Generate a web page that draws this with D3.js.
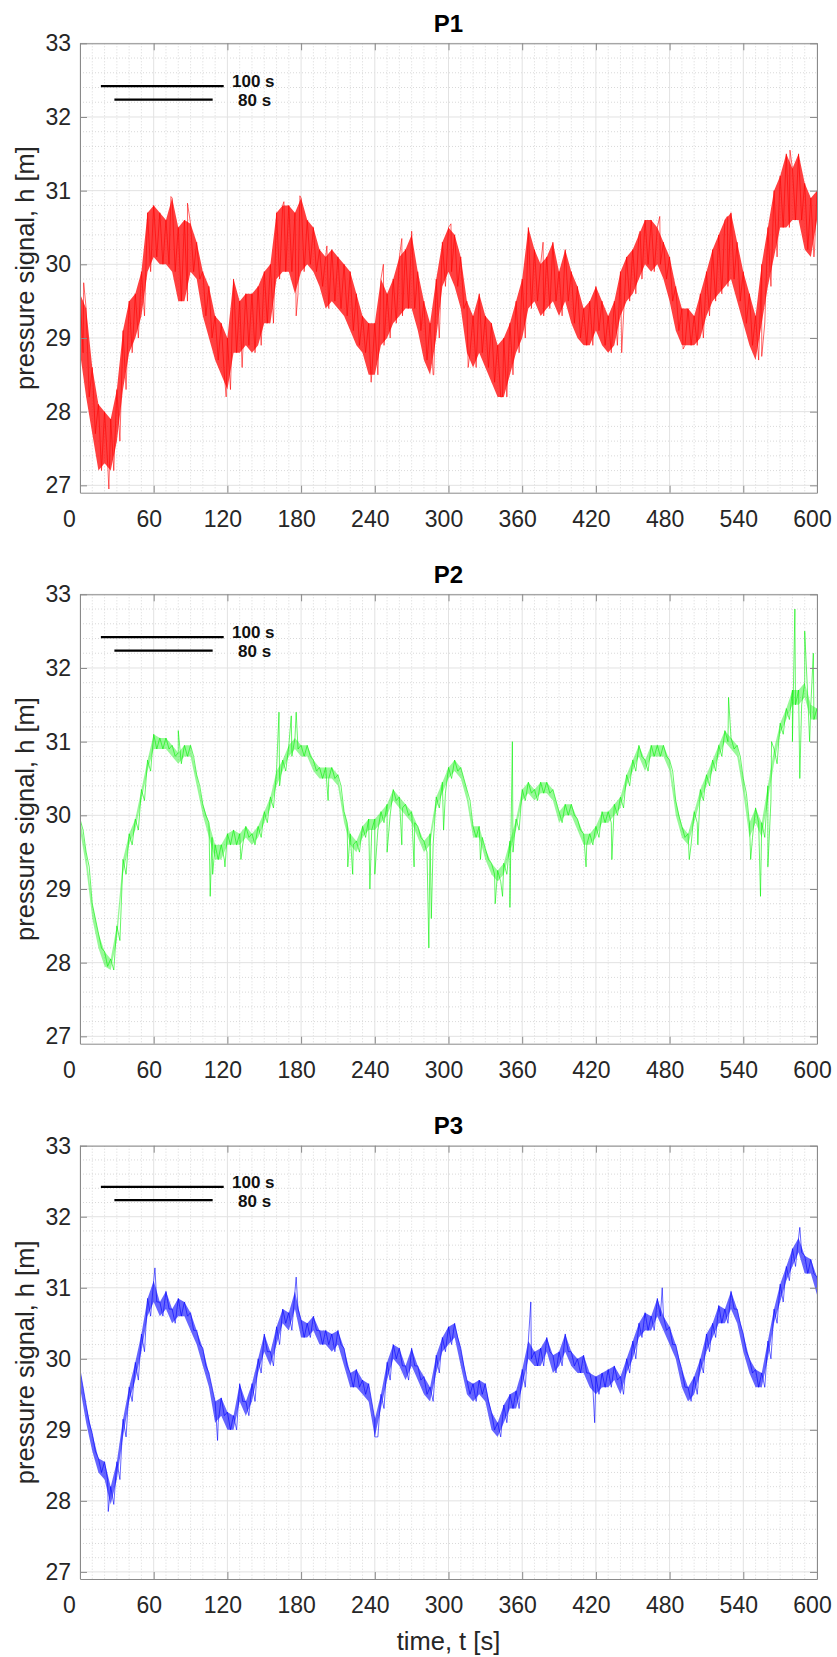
<!DOCTYPE html>
<html>
<head>
<meta charset="utf-8">
<script src="https://cdn.jsdelivr.net/npm/d3@7"></script>
<style>
  body { margin: 0; background: #fff; }
  text { font-family: Arial, "Liberation Sans", sans-serif; fill: #262626; }
</style>
</head>
<body>
<svg id="chart" width="837" height="1657"></svg>
<script>
// ---- data ----
var titles = ["P1", "P2", "P3"]
var colors = ["#ff0000", "#00f000", "#0000ff"]
var xTicks = [0, 60, 120, 180, 240, 300, 360, 420, 480, 540, 600]
var yTicks = [27, 28, 29, 30, 31, 32, 33]
var sampleStep = 5 // seconds between band samples

// lower / upper edge of the noisy band, one value every 5 s from 0 to 600 s
var p1Lo = [28.8, 28.2, 27.7, 27.2, 27.3, 27.2, 27.6, 28.3, 28.8, 29.0, 29.3, 29.9,
    30.1, 30.0, 30.0, 29.9, 29.5, 29.5, 29.9, 29.8, 29.3, 29.0, 28.7, 28.5,
    28.3, 28.8, 28.8, 28.9, 28.8, 28.9, 29.2, 29.2, 29.8, 29.9, 29.9, 29.6,
    29.9, 30.0, 29.9, 29.7, 29.4, 29.5, 29.4, 29.3, 29.1, 28.9, 28.8, 28.5,
    28.5, 28.9, 29.0, 29.2, 29.3, 29.4, 29.4, 29.1, 28.7, 28.5, 29.0, 29.7,
    29.9, 29.7, 29.4, 28.8, 28.6, 28.8, 28.6, 28.4, 28.2, 28.2, 28.5, 28.8,
    29.0, 29.4, 29.5, 29.3, 29.4, 29.5, 29.3, 29.5, 29.2, 29.0, 28.9, 28.9,
    29.1, 28.9, 28.8, 28.9, 29.3, 29.5, 29.6, 29.8, 30.0, 29.9, 30.0, 29.8,
    29.5, 29.1, 28.9, 28.9, 28.9, 29.0, 29.3, 29.5, 29.6, 29.7, 29.8, 29.5,
    29.2, 28.9, 28.7, 29.2, 29.7, 30.1, 30.5, 30.5, 30.6, 30.6, 30.2, 30.1,
    30.6]
var p1Hi = [29.6, 29.4, 28.6, 28.1, 28.0, 27.9, 28.3, 29.1, 29.5, 29.6, 29.9, 30.7,
    30.8, 30.7, 30.6, 30.9, 30.5, 30.6, 30.55, 30.3, 29.9, 29.7, 29.3, 29.2,
    29.0, 29.8, 29.5, 29.6, 29.6, 29.7, 29.9, 30.0, 30.7, 30.8, 30.8, 30.7,
    30.9, 30.6, 30.5, 30.2, 30.1, 30.2, 30.1, 30.0, 29.9, 29.6, 29.3, 29.2,
    29.2, 29.8, 29.6, 29.8, 30.1, 30.2, 30.4, 29.9, 29.5, 29.2, 29.8, 30.3,
    30.5, 30.4, 30.1, 29.5, 29.3, 29.6, 29.3, 29.2, 28.9, 29.0, 29.2, 29.5,
    29.8, 30.5, 30.2, 30.0, 30.1, 30.3, 29.9, 30.2, 29.9, 29.7, 29.4, 29.5,
    29.7, 29.5, 29.3, 29.5, 29.9, 30.1, 30.2, 30.4, 30.6, 30.6, 30.5, 30.3,
    30.1, 29.7, 29.4, 29.4, 29.3, 29.6, 29.9, 30.2, 30.4, 30.6, 30.7, 30.3,
    29.9, 29.6, 29.3, 30.0, 30.5, 31.0, 31.2, 31.5, 31.3, 31.5, 31.1, 30.9,
    31.0]
var p1Spikes = [[3, 29.75], [23.5, 26.95], [74, 30.92], [87.5, 30.83], [119, 28.2], [132, 28.6],
    [166, 30.85], [176, 29.3], [179, 30.93], [201, 30.25], [237, 28.4], [247, 30.0],
    [262, 30.35], [270, 30.45], [288, 28.5], [302, 30.55], [316, 28.6], [344, 28.2],
    [365, 30.5], [377, 30.3], [441, 28.8], [456, 30.45], [472, 30.65], [491, 28.85],
    [527, 30.65], [555, 28.75], [578, 31.55], [598, 30.2]]

var p2Lo = [29.8, 29.3, 28.6, 28.2, 27.95, 27.9, 28.3, 29.2, 29.6, 29.8, 30.2, 30.6,
    30.9, 30.9, 30.9, 30.8, 30.7, 30.8, 30.8, 30.4, 30.0, 29.7, 29.4, 29.4,
    29.6, 29.6, 29.6, 29.7, 29.6, 29.7, 29.9, 30.1, 30.4, 30.6, 30.8, 30.9,
    30.8, 30.8, 30.6, 30.5, 30.5, 30.5, 30.4, 29.9, 29.6, 29.5, 29.7, 29.8,
    29.8, 29.9, 30.0, 30.2, 30.1, 30.0, 29.9, 29.7, 29.5, 29.6, 30.1, 30.3,
    30.5, 30.6, 30.5, 30.2, 29.7, 29.7, 29.4, 29.2, 29.1, 29.2, 29.5, 29.8,
    30.2, 30.3, 30.2, 30.3, 30.3, 30.2, 29.9, 30.0, 30.0, 29.8, 29.6, 29.6,
    29.7, 29.9, 29.9, 30.0, 30.1, 30.4, 30.6, 30.8, 30.6, 30.8, 30.8, 30.8,
    30.6, 30.0, 29.7, 29.6, 29.9, 30.2, 30.4, 30.6, 30.8, 31.0, 30.9, 30.8,
    30.3, 29.7, 29.9, 29.7, 30.2, 30.7, 31.1, 31.3, 31.5, 31.5, 31.6, 31.3,
    31.3]
var p2Hi = [29.95, 29.5, 28.8, 28.4, 28.15, 28.05, 28.5, 29.4, 29.75, 29.95, 30.35, 30.75,
    31.1, 31.05, 31.05, 30.95, 30.85, 30.95, 30.95, 30.55, 30.15, 29.9, 29.6, 29.6,
    29.75, 29.8, 29.75, 29.85, 29.75, 29.85, 30.05, 30.25, 30.6, 30.75, 30.95, 31.05,
    30.95, 30.95, 30.75, 30.65, 30.65, 30.65, 30.55, 30.05, 29.75, 29.65, 29.85, 29.95,
    29.95, 30.05, 30.15, 30.35, 30.25, 30.15, 30.05, 29.85, 29.65, 29.75, 30.25, 30.45,
    30.65, 30.75, 30.65, 30.35, 29.85, 29.85, 29.55, 29.35, 29.25, 29.35, 29.65, 29.95,
    30.35, 30.45, 30.35, 30.45, 30.45, 30.35, 30.05, 30.15, 30.15, 29.95, 29.75, 29.75,
    29.85, 30.05, 30.05, 30.15, 30.25, 30.55, 30.75, 30.95, 30.75, 30.95, 30.95, 30.95,
    30.75, 30.2, 29.85, 29.75, 30.05, 30.35, 30.55, 30.75, 30.95, 31.15, 31.05, 30.95,
    30.5, 29.9, 30.1, 29.9, 30.4, 30.9, 31.25, 31.45, 31.7, 31.7, 31.8, 31.5,
    31.45]
var p2Spikes = [[80, 31.15], [106, 28.9], [108, 29.2], [118, 29.3], [131, 29.4], [162, 31.4],
    [172, 31.35], [176, 31.4], [202, 30.2], [218, 29.3], [222, 29.2], [236, 29.0],
    [240, 29.2], [250, 29.5], [262, 29.6], [272, 29.3], [284, 28.2], [286, 28.6],
    [296, 29.8], [326, 29.4], [338, 28.8], [344, 28.9], [350, 28.75], [352, 31.0],
    [412, 29.3], [433, 29.4], [496, 29.4], [503, 29.6], [528, 31.6], [546, 29.4],
    [554, 28.9], [560, 29.3], [563, 31.0], [580, 31.0], [582, 32.8], [586, 30.5],
    [590, 32.5], [594, 31.0], [597, 32.2]]

var p3Lo = [29.6, 29.1, 28.7, 28.4, 28.3, 27.95, 28.3, 28.9, 29.4, 29.7, 30.1, 30.6,
    30.8, 30.6, 30.7, 30.5, 30.6, 30.6, 30.4, 30.2, 29.9, 29.6, 29.1, 29.2,
    29.0, 29.0, 29.4, 29.2, 29.4, 29.8, 30.1, 29.9, 30.2, 30.5, 30.4, 30.7,
    30.3, 30.3, 30.4, 30.2, 30.2, 30.1, 30.2, 29.9, 29.6, 29.6, 29.5, 29.4,
    28.9, 29.3, 29.7, 30.0, 29.9, 29.7, 29.9, 29.7, 29.5, 29.4, 29.8, 30.1,
    30.2, 30.3, 29.9, 29.5, 29.4, 29.5, 29.4, 29.0, 28.9, 29.1, 29.3, 29.3,
    29.6, 30.0, 29.9, 29.9, 30.1, 29.8, 29.9, 30.1, 29.9, 29.8, 29.8, 29.6,
    29.5, 29.6, 29.6, 29.7, 29.5, 29.8, 30.0, 30.3, 30.4, 30.4, 30.6, 30.4,
    30.2, 30.0, 29.6, 29.4, 29.5, 29.8, 30.1, 30.3, 30.5, 30.5, 30.7, 30.5,
    30.1, 29.8, 29.6, 29.6, 30.0, 30.5, 30.8, 31.1, 31.3, 31.5, 31.2, 31.2,
    30.9]
var p3Hi = [29.85, 29.35, 28.95, 28.6, 28.55, 28.2, 28.55, 29.15, 29.6, 29.95, 30.35, 30.85,
    31.1, 30.8, 30.95, 30.7, 30.85, 30.8, 30.65, 30.4, 30.15, 29.8, 29.4, 29.45,
    29.25, 29.2, 29.65, 29.4, 29.65, 30.0, 30.35, 30.1, 30.45, 30.7, 30.65, 30.95,
    30.55, 30.5, 30.6, 30.4, 30.4, 30.35, 30.4, 30.15, 29.8, 29.85, 29.7, 29.65,
    29.15, 29.5, 29.95, 30.2, 30.15, 29.9, 30.15, 29.9, 29.75, 29.6, 30.05, 30.3,
    30.45, 30.5, 30.15, 29.7, 29.65, 29.7, 29.65, 29.25, 29.1, 29.35, 29.5, 29.55,
    29.85, 30.25, 30.1, 30.15, 30.3, 30.05, 30.1, 30.35, 30.1, 30.0, 30.05, 29.8,
    29.75, 29.8, 29.85, 29.9, 29.75, 30.0, 30.25, 30.5, 30.65, 30.6, 30.85, 30.6,
    30.45, 30.2, 29.85, 29.6, 29.75, 30.0, 30.35, 30.5, 30.75, 30.7, 30.95, 30.7,
    30.35, 30.0, 29.85, 29.8, 30.25, 30.7, 31.05, 31.3, 31.55, 31.7, 31.45, 31.4,
    31.15]
var p3Spikes = [[23, 27.85], [61, 31.28], [112, 28.85], [176, 31.15], [240, 28.9], [367, 30.8],
    [419, 29.1], [474, 31.0], [586, 31.85]]

// reference bars drawn top left of every panel: [start s, length s, level m, label]
var scaleBars = [[17, 100, 32.42, "100 s"], [28, 80, 32.235, "80 s"]]

// ---- layout ----
var left = 80, right = 817
var panelTop = [43.3, 594.3, 1145.7]
var panelBottom = [492.7, 1043.7, 1579]
var bandOpacity = [0.75, 0.4, 0.6]
var yDomain = [26.9, 33]

var svg = d3.select("#chart")
var x = d3.scaleLinear().domain([0, 600]).range([left, right])

var series = [
    { lo: p1Lo, hi: p1Hi, spikes: p1Spikes },
    { lo: p2Lo, hi: p2Hi, spikes: p2Spikes },
    { lo: p3Lo, hi: p3Hi, spikes: p3Spikes }
]

var xMinor = d3.range(10, 600, 10).filter(function (d) { return d % 60 != 0 })
var yMinor = d3.range(27, 33, 0.2).map(function (d) { return Math.round(d * 10) / 10 })
    .filter(function (d) { return Math.abs(d - Math.round(d)) > 0.01 })

series.forEach(function (s, k) {
    var top = panelTop[k], bottom = panelBottom[k]
    var y = d3.scaleLinear().domain(yDomain).range([bottom, top])
    var g = svg.append("g").attr("class", "panel")

    // clip to the axes box
    g.append("clipPath").attr("id", "clip" + k)
        .append("rect").attr("x", left).attr("y", top)
        .attr("width", right - left).attr("height", bottom - top)

    // minor grid (dotted)
    g.selectAll(".xminor").data(xMinor).enter().append("line")
        .attr("x1", function (d) { return x(d) }).attr("x2", function (d) { return x(d) })
        .attr("y1", top).attr("y2", bottom)
        .attr("stroke", "#cfcfcf").attr("stroke-width", 0.8).attr("stroke-dasharray", "1,2")
    g.selectAll(".yminor").data(yMinor).enter().append("line")
        .attr("y1", function (d) { return y(d) }).attr("y2", function (d) { return y(d) })
        .attr("x1", left).attr("x2", right)
        .attr("stroke", "#cfcfcf").attr("stroke-width", 0.8).attr("stroke-dasharray", "1,2")

    // major grid
    g.selectAll(".xmajor").data(xTicks).enter().append("line")
        .attr("x1", function (d) { return x(d) }).attr("x2", function (d) { return x(d) })
        .attr("y1", top).attr("y2", bottom)
        .attr("stroke", "#e2e2e2").attr("stroke-width", 1)
    g.selectAll(".ymajor").data(yTicks).enter().append("line")
        .attr("y1", function (d) { return y(d) }).attr("y2", function (d) { return y(d) })
        .attr("x1", left).attr("x2", right)
        .attr("stroke", "#e2e2e2").attr("stroke-width", 1)

    // noisy signal: band + zig-zag trace through band edges and spikes
    var band = s.lo.map(function (v, i) { return { t: i * sampleStep, lo: v, hi: s.hi[i] } })
    var pts = []
    band.forEach(function (d) {
        pts.push([d.t, d.hi])
        pts.push([d.t + sampleStep / 2, d.lo])
    })
    s.spikes.forEach(function (d) { pts.push(d) })
    pts.sort(function (a, b) { return a[0] - b[0] })

    var plot = g.append("g").attr("clip-path", "url(#clip" + k + ")")
    plot.append("path").datum(band)
        .attr("d", d3.area()
            .x(function (d) { return x(d.t) })
            .y0(function (d) { return y(d.lo) })
            .y1(function (d) { return y(d.hi) }))
        .attr("fill", colors[k]).attr("fill-opacity", bandOpacity[k])
    plot.append("path").datum(pts)
        .attr("d", d3.line()
            .x(function (d) { return x(d[0]) })
            .y(function (d) { return y(d[1]) }))
        .attr("fill", "none").attr("stroke", colors[k]).attr("stroke-width", 0.6)

    // scale bars
    scaleBars.forEach(function (b, j) {
        g.append("line")
            .attr("x1", x(b[0])).attr("x2", x(b[0] + b[1]))
            .attr("y1", y(b[2])).attr("y2", y(b[2]))
            .attr("stroke", "#000").attr("stroke-width", 2.2)
        g.append("text")
            .attr("x", j == 0 ? 232 : 238)
            .attr("y", y(b[2]) + (j == 0 ? 1 : 6.5))
            .style("font-size", "17px").style("font-weight", "bold")
            .style("fill", "#111")
            .text(b[3])
    })

    // axes (ticks point inward, box on all four sides)
    var axB = g.append("g").attr("transform", "translate(0," + bottom + ")")
        .call(d3.axisBottom(x).tickValues(xTicks).tickSizeInner(-7).tickSizeOuter(0)
            .tickPadding(17.7).tickFormat(d3.format("d")))
    var axT = g.append("g").attr("transform", "translate(0," + top + ")")
        .call(d3.axisTop(x).tickValues(xTicks).tickSizeInner(-7).tickSizeOuter(0).tickFormat(""))
    var axL = g.append("g").attr("transform", "translate(" + left + ",0)")
        .call(d3.axisLeft(y).tickValues(yTicks).tickSizeInner(-7).tickSizeOuter(0)
            .tickPadding(9).tickFormat(d3.format("d")))
    var axR = g.append("g").attr("transform", "translate(" + right + ",0)")
        .call(d3.axisRight(y).tickValues(yTicks).tickSizeInner(-7).tickSizeOuter(0).tickFormat(""))

    ;[axB, axT, axL, axR].forEach(function (a) {
        a.select(".domain").attr("stroke", "#8a8a8a").attr("stroke-width", 1)
        a.selectAll(".tick line").attr("stroke", "#8a8a8a").attr("stroke-width", 1)
        a.selectAll("text").style("font-size", "23px").style("fill", "#262626")
    })
    axB.selectAll(".tick text").attr("dx", function (d) { return d == 0 ? -11 : -5 })

    // title
    g.append("text")
        .attr("x", (left + right) / 2).attr("y", top - 11.8)
        .attr("text-anchor", "middle")
        .style("font-size", "24px").style("font-weight", "bold").style("fill", "#000")
        .text(titles[k])

    // y label
    g.append("text")
        .attr("transform", "translate(33.5," + (top + bottom) / 2 + ") rotate(-90)")
        .attr("text-anchor", "middle")
        .style("font-size", "25.5px")
        .text("pressure signal, h [m]")
})

// x label
svg.append("text")
    .attr("x", (left + right) / 2).attr("y", 1650)
    .attr("text-anchor", "middle")
    .style("font-size", "25.5px")
    .text("time, t [s]")
</script>
</body>
</html>
